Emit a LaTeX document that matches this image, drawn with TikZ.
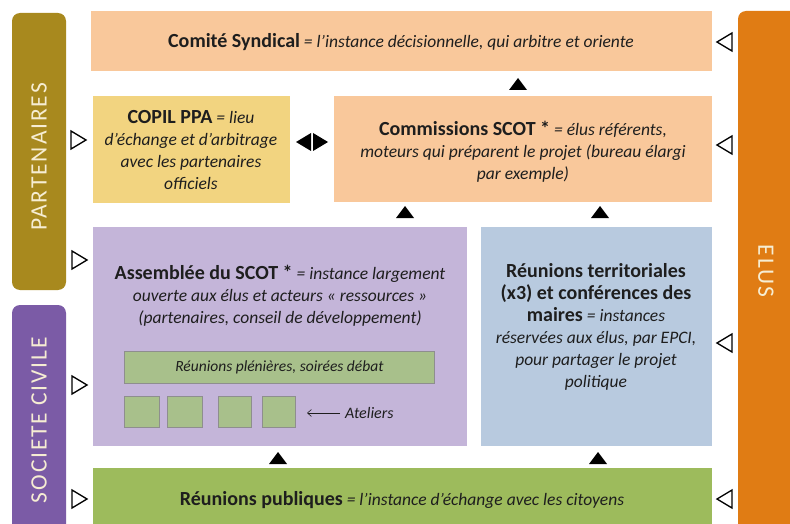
\documentclass[tikz,border=0pt]{standalone}
\usepackage{fontspec}
\setmainfont{Carlito}
\usetikzlibrary{arrows.meta}
\definecolor{olivebar}{HTML}{A8891E}
\definecolor{purplebar}{HTML}{7B5BA6}
\definecolor{orangebar}{HTML}{E07C14}
\definecolor{peach}{HTML}{F9C89B}
\definecolor{copily}{HTML}{F2D480}
\definecolor{lavender}{HTML}{C4B5D9}
\definecolor{lblue}{HTML}{B8CADF}
\definecolor{dgreen}{HTML}{9DBB5C}
\definecolor{sgreen}{HTML}{A8C08B}
\definecolor{sborder}{HTML}{8E8E8E}
\definecolor{txt}{HTML}{1E1E1E}
\definecolor{cream}{HTML}{F6EDD3}
\newcommand{\BoldT}{\fontsize{20}{23}\selectfont\bfseries\upshape}
\newcommand{\ItT}{\fontsize{17.5}{22}\selectfont\itshape}
\begin{document}
\begin{tikzpicture}[x=1pt,y=-1pt,
  box/.style={anchor=north west, inner sep=0pt, draw=none},
  lbl/.style={align=center, inner sep=0pt, text=txt, font=\ItT},
  sidebar/.style={rounded corners=8pt, draw=none},
  sidetext/.style={text=cream, font=\fontsize{23.5}{26}\selectfont\addfontfeature{LetterSpace=8}},
  smallbox/.style={anchor=north west, inner sep=0pt, fill=sgreen, draw=sborder, line width=0.8pt},
  rtri/.pic={\draw[line width=1.3pt, line join=miter, fill=white] (-7,-9) -- (8,0) -- (-7,9) -- cycle;},
  ltri/.pic={\draw[line width=1.3pt, line join=miter, fill=white] (7,-9) -- (-8,0) -- (7,9) -- cycle;},
  utri/.pic={\fill[black] (-9,6) -- (9,6) -- (0,-6) -- cycle;},
  dtri/.pic={\fill[black] (-1,-9) -- (-1,9) -- (-16,0) -- cycle; \fill[black] (1,-9) -- (1,9) -- (16,0) -- cycle;}
]
\useasboundingbox (0,0) rectangle (790,524);
\fill[white] (0,0) rectangle (790,524);
\clip (0,0) rectangle (790,524);

% side bars
\fill[sidebar, olivebar] (12,13) rectangle (66,290);
\fill[sidebar, purplebar] (12,305) rectangle (66,545);
\fill[sidebar, orangebar] (738,11) rectangle (810,545);
\node[sidetext, rotate=90] (partenaires) at (39,157) {PARTENAIRES};
\node[sidetext, rotate=90] (societe) at (39,420) {SOCIETE CIVILE};
\node[sidetext, rotate=-90] (elus) at (766,271) {ELUS};

% boxes
\node[box, fill=peach, minimum width=621pt, minimum height=60pt] (comite) at (91,11) {};
\node[box, fill=copily, minimum width=197pt, minimum height=107pt] (copil) at (93,96) {};
\node[box, fill=peach, minimum width=378pt, minimum height=106pt] (commissions) at (334,96) {};
\node[box, fill=lavender, minimum width=374pt, minimum height=219pt] (assemblee) at (93,227) {};
\node[box, fill=lblue, minimum width=231pt, minimum height=219pt] (territ) at (481,227) {};
\node[box, fill=dgreen, minimum width=619pt, minimum height=70pt] (publiques) at (93,468) {};

% labels
\node[lbl] (tcomite) at (401,42) {{\BoldT Comité Syndical} = l’instance décisionnelle, qui arbitre et oriente};
\node[lbl] (tcopil) at (191,150) {{\BoldT COPIL PPA} = lieu\\d’échange et d’arbitrage\\avec les partenaires\\officiels};
\node[lbl] (tcomm) at (523,152) {{\BoldT Commissions SCOT *} = élus référents,\\moteurs qui préparent le projet (bureau élargi\\par exemple)};
\node[lbl] (tassem) at (280,296) {{\BoldT Assemblée du SCOT *} = instance largement\\ouverte aux élus et acteurs « ressources »\\(partenaires, conseil de développement)};
\node[lbl] (tterrit) at (596,327) {{\BoldT Réunions territoriales}\\{\BoldT (x3) et conférences des}\\{\BoldT maires} = instances\\réservées aux élus, par EPCI,\\pour partager le projet\\politique};
\node[lbl] (tpubl) at (402,500) {{\BoldT Réunions publiques} = l’instance d’échange avec les citoyens};

% inner elements of the assemblee
\node[smallbox, minimum width=310pt, minimum height=32pt] (plenieres) at (124,351) {};
\node[lbl, font=\fontsize{15.5}{18}\selectfont\itshape] (tplen) at (plenieres.center) {Réunions plénières, soirées débat};
\node[smallbox, minimum width=35pt, minimum height=31pt] (at1) at (124,396) {};
\node[smallbox, minimum width=35pt, minimum height=31pt] (at2) at (167,396) {};
\node[smallbox, minimum width=33pt, minimum height=31pt] (at3) at (218,396) {};
\node[smallbox, minimum width=33pt, minimum height=31pt] (at4) at (262,396) {};
\node[lbl, font=\fontsize{16}{18}\selectfont\itshape, anchor=west] (atel) at (345,413) {Ateliers};
\coordinate (atelend) at (307,413);
\draw[line width=0.6pt, color=txt, -{Straight Barb[length=4pt,width=7pt]}] (atel.west) ++(-5,0) -- (atelend);

% black arrows (upward flow)
\pic (u1) at (518,84) {utri};
\pic (u2) at (405,212) {utri};
\pic (u3) at (600,212) {utri};
\pic (u4) at (278,458) {utri};
\pic (u5) at (598,458) {utri};
\pic (d1) at (312,142) {dtri};

% open triangles from side bars
\pic (r1) at (78,140) {rtri};
\pic (r2) at (79,260) {rtri};
\pic (r3) at (79,385) {rtri};
\pic (r4) at (79,499) {rtri};
\pic (l1) at (725,42) {ltri};
\pic (l2) at (725,145) {ltri};
\pic (l3) at (725,343) {ltri};
\pic (l4) at (725,499) {ltri};
\end{tikzpicture}
\end{document}
